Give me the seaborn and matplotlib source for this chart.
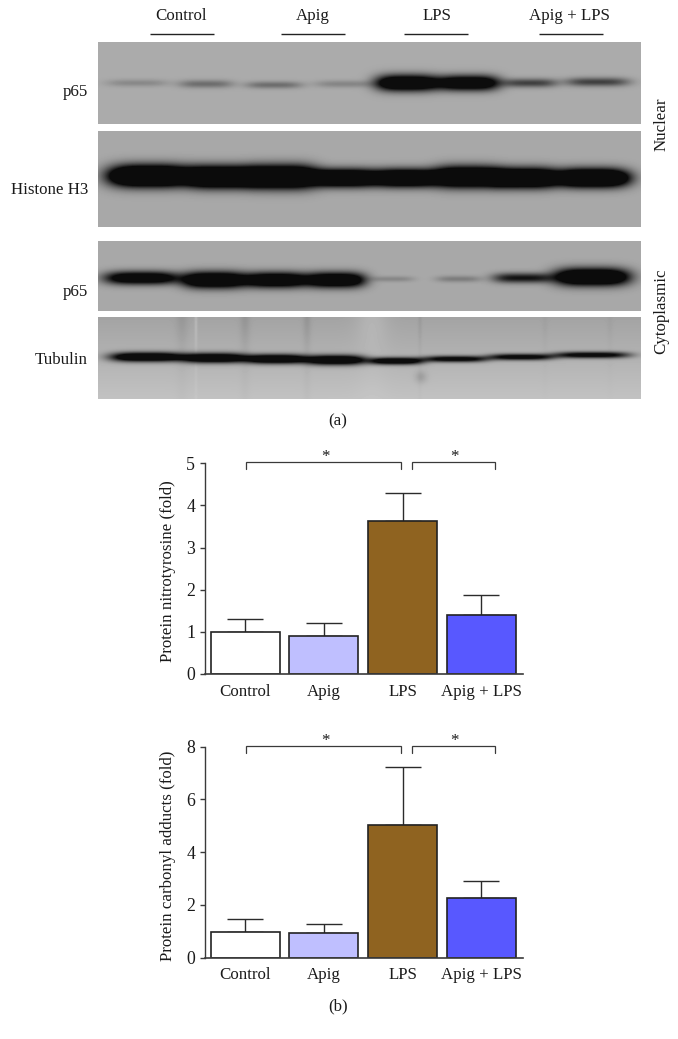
import numpy as np
import pandas as pd
import matplotlib
matplotlib.use("Agg")
import matplotlib.pyplot as plt
import seaborn as sns

W, H = 678, 1039
FONT = "Liberation Serif"
FS = 12.2
DARK = "#2b2b2b"

groups = ["Control", "Apig", "LPS", "Apig + LPS"]
colors = ["#ffffff", "#bfbfff", "#8f6320", "#5858ff"]
nitro_values = [1.0, 0.91, 3.63, 1.40]
nitro_tops = [1.30, 1.21, 4.30, 1.88]
carbonyl_values = [0.98, 0.93, 5.03, 2.26]
carbonyl_tops = [1.47, 1.27, 7.22, 2.92]

# Western blot lanes: left edge, right edge, darkness, band centre, band height
p65_nuc_left = [108, 180, 247, 316, 377, 439, 504, 567]
p65_nuc_right = [167, 232, 301, 372, 437, 498, 556, 628]
p65_nuc_dark = [0.2, 0.36, 0.36, 0.22, 1.6, 1.5, 0.62, 0.62]
p65_nuc_y = [83, 84, 85, 84, 83, 83, 83, 82]
p65_nuc_h = [3.6, 4.0, 3.6, 3.6, 8.0, 7.5, 4.4, 4.4]

h3_left = [110, 190, 251, 316, 374, 435, 494, 556]
h3_right = [190, 255, 316, 374, 435, 498, 554, 628]
h3_dark = [2.2, 2.2, 2.2, 2.0, 2.0, 2.1, 2.1, 2.1]
h3_y = [176, 177, 177, 178, 178, 177, 178, 178]
h3_h = [10.5, 10.5, 11.0, 8.5, 8.5, 10.0, 9.5, 9.0]

p65_cyt_left = [106, 184, 247, 307, 372, 437, 494, 556]
p65_cyt_right = [177, 245, 305, 364, 413, 480, 550, 628]
p65_cyt_dark = [1.4, 1.7, 1.6, 1.6, 0.2, 0.26, 0.9, 1.8]
p65_cyt_y = [278, 280, 280, 280, 279, 279, 278, 277]
p65_cyt_h = [6.5, 8.0, 7.5, 7.5, 2.8, 3.2, 5.0, 8.5]

tub_left = [112, 184, 247, 307, 370, 425, 490, 556]
tub_right = [182, 245, 305, 364, 422, 486, 552, 628]
tub_dark = [1.5, 1.5, 1.5, 1.5, 1.3, 1.1, 1.1, 1.1]
tub_y = [357, 358, 359, 360, 361, 359, 357, 355]
tub_h = [4.6, 4.8, 4.6, 4.8, 3.6, 3.2, 3.2, 3.2]
# faint vertical streaks on the tubulin membrane: x, half-width, shade change
tub_streak_x = [182, 196, 245, 307, 372, 420, 545, 610]
tub_streak_w = [6, 1.5, 5, 4, 16, 2, 3, 3]
tub_streak_d = [-0.05, 0.07, -0.06, -0.06, 0.06, -0.04, -0.02, -0.02]
# small dark smudge on the tubulin membrane: x, y, radius, shade change
tub_spot = (421, 377, 6, -0.10)


def blot(left, right, dark, yc, hh, y0, y1, bg, streaks=None, gradient=0.0, spot=None):
    xs = np.arange(98, 641) + 0.5
    ys = np.arange(y0, y1) + 0.5
    X, Y = np.meshgrid(xs, ys)
    img = np.full(X.shape, float(bg))
    if gradient:
        img += gradient * ((Y - y0) / (y1 - y0) - 0.5)
    if streaks is not None:
        fade = 0.25 + 0.75 * np.exp(-((Y - y0) / 28.0) ** 2)
        for sx, sw, sd in zip(*streaks):
            img += sd * fade * np.exp(-((X - sx) / sw) ** 2)
    if spot is not None:
        sx, sy, sr, sd = spot
        img += sd * np.exp(-(((X - sx) ** 2 + (Y - sy) ** 2) / sr ** 2))
    dsum = np.zeros(X.shape)
    for l, r, d, c, h in zip(left, right, dark, yc, hh):
        cx, hw = (l + r) / 2, (r - l) / 2 * 1.05
        dsum += d * np.exp(-np.abs((X - cx) / hw) ** 3.6) * np.exp(-np.abs((Y - c) / h) ** 2)
    img = img * (1 - np.clip(dsum, 0, 0.93))
    return np.clip(img, 0, 1)


sns.set_theme(style="white")
plt.rcParams["font.family"] = [FONT, "DejaVu Serif"]
plt.rcParams["axes.edgecolor"] = "#3a3a3a"

fig = plt.figure(figsize=(W / 100, H / 100), dpi=100, facecolor="white")


def box(x0, ytop, x1, ybot):
    return [x0 / W, 1 - ybot / H, (x1 - x0) / W, (ybot - ytop) / H]


over = fig.add_axes([0, 0, 1, 1], zorder=5)
over.set_xlim(0, W)
over.set_ylim(H, 0)
over.axis("off")
over.patch.set_alpha(0)

panels = [
    (p65_nuc_left, p65_nuc_right, p65_nuc_dark, p65_nuc_y, p65_nuc_h, 42, 124, 0.67, None, 0, None),
    (h3_left, h3_right, h3_dark, h3_y, h3_h, 131, 227, 0.66, None, 0, None),
    (p65_cyt_left, p65_cyt_right, p65_cyt_dark, p65_cyt_y, p65_cyt_h, 241, 311, 0.66, None, 0, None),
    (tub_left, tub_right, tub_dark, tub_y, tub_h, 317, 399, 0.70,
     (tub_streak_x, tub_streak_w, tub_streak_d), 0.12, tub_spot),
]
for l, r, d, c, h, y0, y1, bg, st, gr, sp in panels:
    over.imshow(blot(l, r, d, c, h, y0, y1, bg, st, gr, sp), cmap="gray", vmin=0, vmax=1,
                extent=(98, 641, y1, y0), aspect="auto", interpolation="bilinear")
over.set_xlim(0, W)
over.set_ylim(H, 0)


def label(x, y, s, **kw):
    kw.setdefault("ha", "center")
    kw.setdefault("va", "center")
    over.text(x, y, s, fontsize=FS, color="#1a1a1a", **kw)


for x, s, x0, x1 in zip([181, 312.5, 437, 569], groups, [150, 281, 403.5, 539], [214, 345, 468, 603]):
    label(x, 16.5, s)
    over.plot([x0, x1], [33.7, 33.7], color="#222222", lw=1.0, solid_capstyle="butt")
for y, s in zip([92.5, 190.5, 291.5, 360.5], ["p65", "Histone H3", "p65", "Tubulin"]):
    label(88, y, s, ha="right")
label(661.5, 124, "Nuclear", rotation=90)
label(661.5, 311, "Cytoplasmic", rotation=90)
label(338, 421, "(a)")
label(338, 1006.5, "(b)")


def bar_panel(ytop, ybot, values, tops, ymax, yticks, ylabel, ylab_y, bracket_y, xtick_shift):
    ax = fig.add_axes(box(205, ytop, 522.7, ybot))
    df = pd.DataFrame({"group": groups, "value": values})
    sns.barplot(data=df, x="group", y="value", hue="group", palette=colors, order=groups,
                hue_order=groups, dodge=False, legend=False, width=0.875,
                edgecolor="#222222", linewidth=1.2, saturation=1, ax=ax, zorder=3)
    pos = np.arange(len(groups))
    vals = np.array(values)
    ax.errorbar(pos, vals, yerr=[np.zeros(len(vals)), np.array(tops) - vals], fmt="none",
                ecolor="#2b2b2b", elinewidth=1.0, capsize=12.7, capthick=1.0, zorder=2)
    ax.set_xlim(-0.508, 3.524)
    ax.set_ylim(0, ymax)
    ax.set_yticks(yticks)
    ax.set_xticks(pos)
    ax.set_xticklabels(groups, fontsize=FS, color="#1a1a1a")
    for t, s in zip(ax.get_xticklabels(), xtick_shift):
        t.set_transform(t.get_transform() + matplotlib.transforms.ScaledTranslation(s / 100, 0, fig.dpi_scale_trans))
    ax.tick_params(axis="x", length=0, pad=7)
    ax.tick_params(axis="y", length=3.6, width=1.0, color="#3a3a3a", labelsize=FS + 0.6,
                   labelcolor="#1a1a1a", pad=3.5, left=True)
    ax.set_xlabel("")
    ax.set_ylabel("")
    ax.patch.set_alpha(0)
    sns.despine(ax=ax)
    ax.spines["left"].set_linewidth(1.0)
    ax.spines["bottom"].set_linewidth(1.2)
    ax.spines["bottom"].set_zorder(5)
    label(168.5, ylab_y, ylabel, rotation=90)
    for x0, x1, sx in [(246, 400.7, 325), (412.3, 494.7, 454)]:
        over.plot([x0, x0, x1, x1], [bracket_y + 7.5, bracket_y, bracket_y, bracket_y + 7.5],
                  color="#3a3a3a", lw=0.9, solid_joinstyle="miter")
        label(sx, bracket_y - 5, "*")
    return ax


bar_panel(463.3, 674, nitro_values, nitro_tops, 5, [0, 1, 2, 3, 4, 5],
          "Protein nitrotyrosine (fold)", 571.5, 461.7, [0, 1, 2, 2])
bar_panel(746.7, 957.7, carbonyl_values, carbonyl_tops, 8, [0, 2, 4, 6, 8],
          "Protein carbonyl adducts (fold)", 856, 745.5, [0, 0, 0, 0])

fig.savefig("out.png", dpi=100, facecolor="white")
